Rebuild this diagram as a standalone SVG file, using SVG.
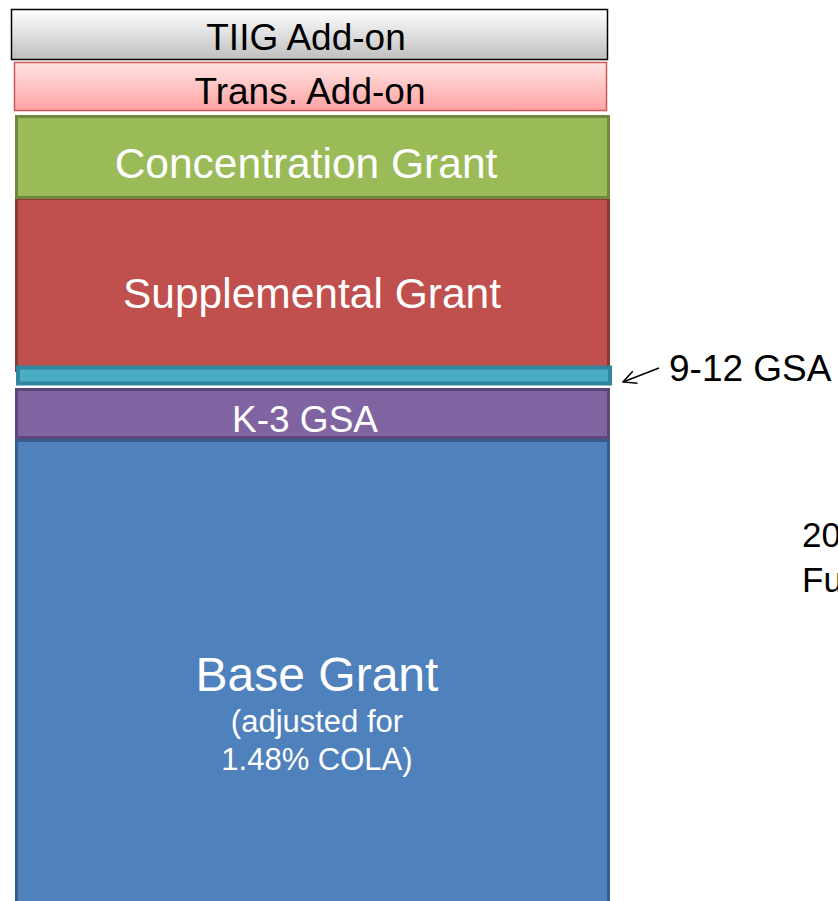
<svg xmlns="http://www.w3.org/2000/svg" width="838" height="901" viewBox="0 0 838 901">
  <style>
    text { font-family: "Liberation Sans", Arial, sans-serif; text-anchor: middle; }
    .dark { fill: #000000; }
    .light { fill: #ffffff; }
    .left { text-anchor: start; }
  </style>
  <defs>
    <linearGradient id="gGrey" x1="0" y1="0" x2="0" y2="1">
      <stop offset="0" stop-color="#ffffff"/>
      <stop offset="1" stop-color="#bfbfbf"/>
    </linearGradient>
    <linearGradient id="gPink" x1="0" y1="0" x2="0" y2="1">
      <stop offset="0" stop-color="#ffe4e4"/>
      <stop offset="1" stop-color="#ffa3a3"/>
    </linearGradient>
    <marker id="openArrow" viewBox="0 0 16 16" refX="15" refY="8" markerWidth="16" markerHeight="16" markerUnits="userSpaceOnUse" orient="auto">
      <path d="M2,1.5 L15,8 L2,14.5" fill="none" stroke="#000" stroke-width="1.5"/>
    </marker>
  </defs>

  <!-- stacked funding bars -->
  <g id="base-grant">
    <rect x="16.5" y="440.5" width="592" height="470" fill="#4f81bd" stroke="#385d8a" stroke-width="3"/>
    <text class="light" x="317" y="691" font-size="48">Base Grant</text>
    <text class="light" x="317" y="732" font-size="31">(adjusted for</text>
    <text class="light" x="317" y="770" font-size="31">1.48% COLA)</text>
  </g>

  <g id="k3-gsa">
    <rect x="16.5" y="389.5" width="592" height="48" fill="#8064a2" stroke="#5c4776" stroke-width="3"/>
    <text class="light" x="305" y="432" font-size="37">K-3 GSA</text>
  </g>

  <g id="supplemental-grant">
    <rect x="16.5" y="198.5" width="592" height="172" fill="#c0504d" stroke="#8c3836" stroke-width="3"/>
    <text class="light" x="312" y="308" font-size="42.5">Supplemental Grant</text>
  </g>

  <g id="gsa-9-12">
    <rect x="18" y="367.5" width="592" height="16" fill="#4bacc6" stroke="#31859c" stroke-width="4"/>
  </g>

  <g id="concentration-grant">
    <rect x="16.5" y="116.5" width="592" height="81" fill="#9bbb59" stroke="#71893f" stroke-width="3"/>
    <text class="light" x="306" y="178" font-size="42.5">Concentration Grant</text>
  </g>

  <g id="trans-addon">
    <rect x="14.5" y="62.5" width="592" height="48" fill="url(#gPink)" stroke="#d05555" stroke-width="1.5"/>
    <text class="dark" x="310" y="104" font-size="37">Trans. Add-on</text>
  </g>

  <g id="tiig-addon">
    <rect x="11.5" y="9.5" width="596" height="50" fill="url(#gGrey)" stroke="#000000" stroke-width="1.5"/>
    <text class="dark" x="306" y="50" font-size="37">TIIG Add-on</text>
  </g>

  <!-- callout for the thin 9-12 GSA band -->
  <g id="connectors">
    <line x1="659" y1="368" x2="623" y2="382" stroke="#000" stroke-width="1.5" marker-end="url(#openArrow)"/>
  </g>

  <g id="label-9-12">
    <text class="dark left" x="669" y="381" font-size="37">9-12 GSA</text>
  </g>

  <g id="side-note">
    <text class="dark left" x="802" y="547" font-size="35">20</text>
    <text class="dark left" x="802" y="592" font-size="35">Fu</text>
  </g>
</svg>
